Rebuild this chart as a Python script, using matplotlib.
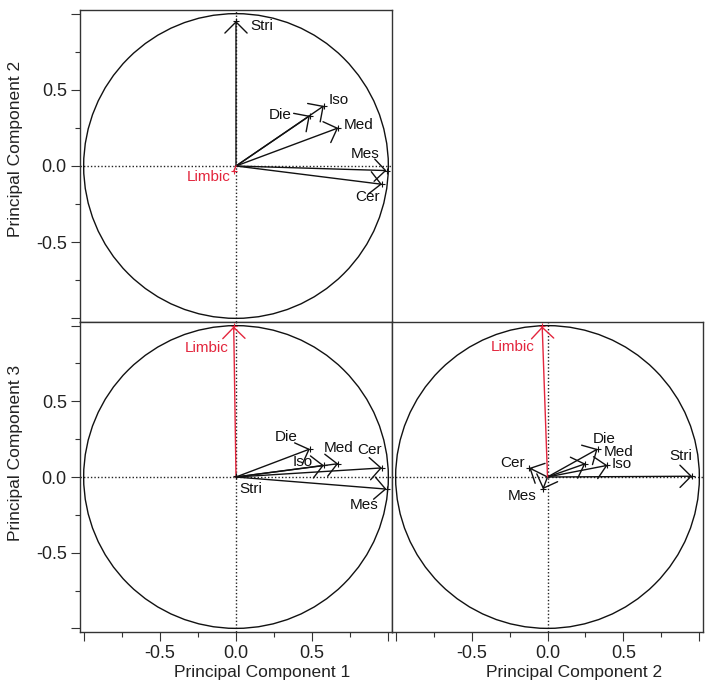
import numpy as np
import matplotlib
matplotlib.use('Agg')
import matplotlib.pyplot as plt
from matplotlib.patches import Circle

plt.rcParams['font.family'] = ['Liberation Sans', 'DejaVu Sans']

# loadings
names = ['Stri', 'Die', 'Iso', 'Med', 'Mes', 'Cer', 'Limbic']
pc1 = [0.0, 0.485, 0.577, 0.671, 0.988, 0.958, -0.015]
pc2 = [0.952, 0.33, 0.395, 0.25, -0.03, -0.12, -0.035]
pc3 = [0.005, 0.185, 0.077, 0.088, -0.08, 0.06, 0.995]
colors = ['#111111'] * 6 + ['#e3263d']

major_ticks = [-1.0, -0.5, 0.0, 0.5, 1.0]
minor_ticks = [-0.75, -0.25, 0.25, 0.75]
tick_labels = ['', '-0.5', '0.0', '0.5', '']

# label offsets in pixels from the arrow tip (dx, dy, ha), per panel
offs_12 = {'Stri': (14, -5, 'left'), 'Die': (-18, 1, 'right'), 'Iso': (5, 6, 'left'),
           'Med': (6, 3, 'left'), 'Mes': (-7, 17, 'right'), 'Cer': (-2, -13, 'right'),
           'Limbic': (-3, -6, 'right')}
offs_13 = {'Stri': (3, -13, 'left'), 'Die': (-12, 12, 'right'), 'Iso': (-11, 3, 'right'),
           'Med': (0, 16, 'center'), 'Mes': (-8, -16, 'right'), 'Cer': (0, 18, 'right'),
           'Limbic': (-5, -22, 'right')}
offs_23 = {'Stri': (0, 20, 'right'), 'Die': (-5, 10, 'left'), 'Iso': (4, 1, 'left'),
           'Med': (18, 12, 'left'), 'Mes': (-6, -7, 'right'), 'Cer': (-4, 5, 'right'),
           'Limbic': (-8, -21, 'right')}

LIM = 1.024
FRAME = '#333333'


def draw_panel(ax, xs, ys, offs):
    ax.set_xlim(-LIM, LIM)
    ax.set_ylim(-LIM, LIM)
    ax.axhline(0, color='#222222', lw=1, ls=(0, (1, 1.5)), zorder=1)
    ax.axvline(0, color='#222222', lw=1, ls=(0, (1, 1.5)), zorder=1)
    ax.add_patch(Circle((0, 0), 1.0, fill=False, lw=1.0, ec='#111111', zorder=2))
    for name, x, y, c in zip(names, xs, ys, colors):
        length = np.hypot(x, y)
        if length > 0.05:
            ax.annotate('', xy=(x, y), xytext=(0, 0),
                        arrowprops=dict(arrowstyle='->,head_length=0.8,head_width=0.8',
                                        color=c, lw=1.0, shrinkA=0, shrinkB=0,
                                        mutation_scale=10), zorder=3)
        else:
            ax.plot([0, x], [0, y], color=c, lw=1.0, zorder=3)
        ax.plot([x], [y], marker='+', ms=5, mew=0.8, color=c, zorder=4)
        dx, dy, ha = offs[name]
        ax.annotate(name, xy=(x, y), xytext=(dx, dy), textcoords='offset pixels',
                    ha=ha, va='center', fontsize=11, color=c, zorder=5)
    for sp in ax.spines.values():
        sp.set_color(FRAME)
        sp.set_linewidth(1.0)
    ax.set_xticks(major_ticks)
    ax.set_xticks(minor_ticks, minor=True)
    ax.set_yticks(major_ticks)
    ax.set_yticks(minor_ticks, minor=True)
    ax.set_xticklabels(tick_labels)
    ax.set_yticklabels(tick_labels)
    ax.tick_params(which='major', length=6.5, width=0.8, color=FRAME, labelsize=13,
                   pad=3, labelcolor='#222222')
    ax.tick_params(which='minor', length=3.5, width=0.8, color=FRAME)


fig = plt.figure(figsize=(7.14, 6.93), dpi=100)
ax1 = fig.add_axes([80 / 714, 1 - 322 / 693, 312 / 714, 312 / 693])
ax2 = fig.add_axes([80 / 714, 1 - 632 / 693, 312 / 714, 310 / 693])
ax3 = fig.add_axes([392 / 714, 1 - 632 / 693, 311 / 714, 310 / 693])

draw_panel(ax1, pc1, pc2, offs_12)
draw_panel(ax2, pc1, pc3, offs_13)
draw_panel(ax3, pc2, pc3, offs_23)

ax1.tick_params(axis='x', which='both', bottom=False, labelbottom=False)
ax3.tick_params(axis='y', which='both', left=False, labelleft=False)

ax1.set_ylabel('Principal Component 2', fontsize=12.5, color='#222222')
ax2.set_ylabel('Principal Component 3', fontsize=12.5, color='#222222')
ax2.set_xlabel('Principal Component 1', fontsize=12.5, color='#222222')
ax3.set_xlabel('Principal Component 2', fontsize=12.5, color='#222222')
ax1.yaxis.set_label_coords(-0.183, 0.556)
ax2.yaxis.set_label_coords(-0.183, 0.579)
ax2.xaxis.set_label_coords(0.585, -0.106)
ax3.xaxis.set_label_coords(0.585, -0.106)

fig.savefig('out.png', dpi=100)
